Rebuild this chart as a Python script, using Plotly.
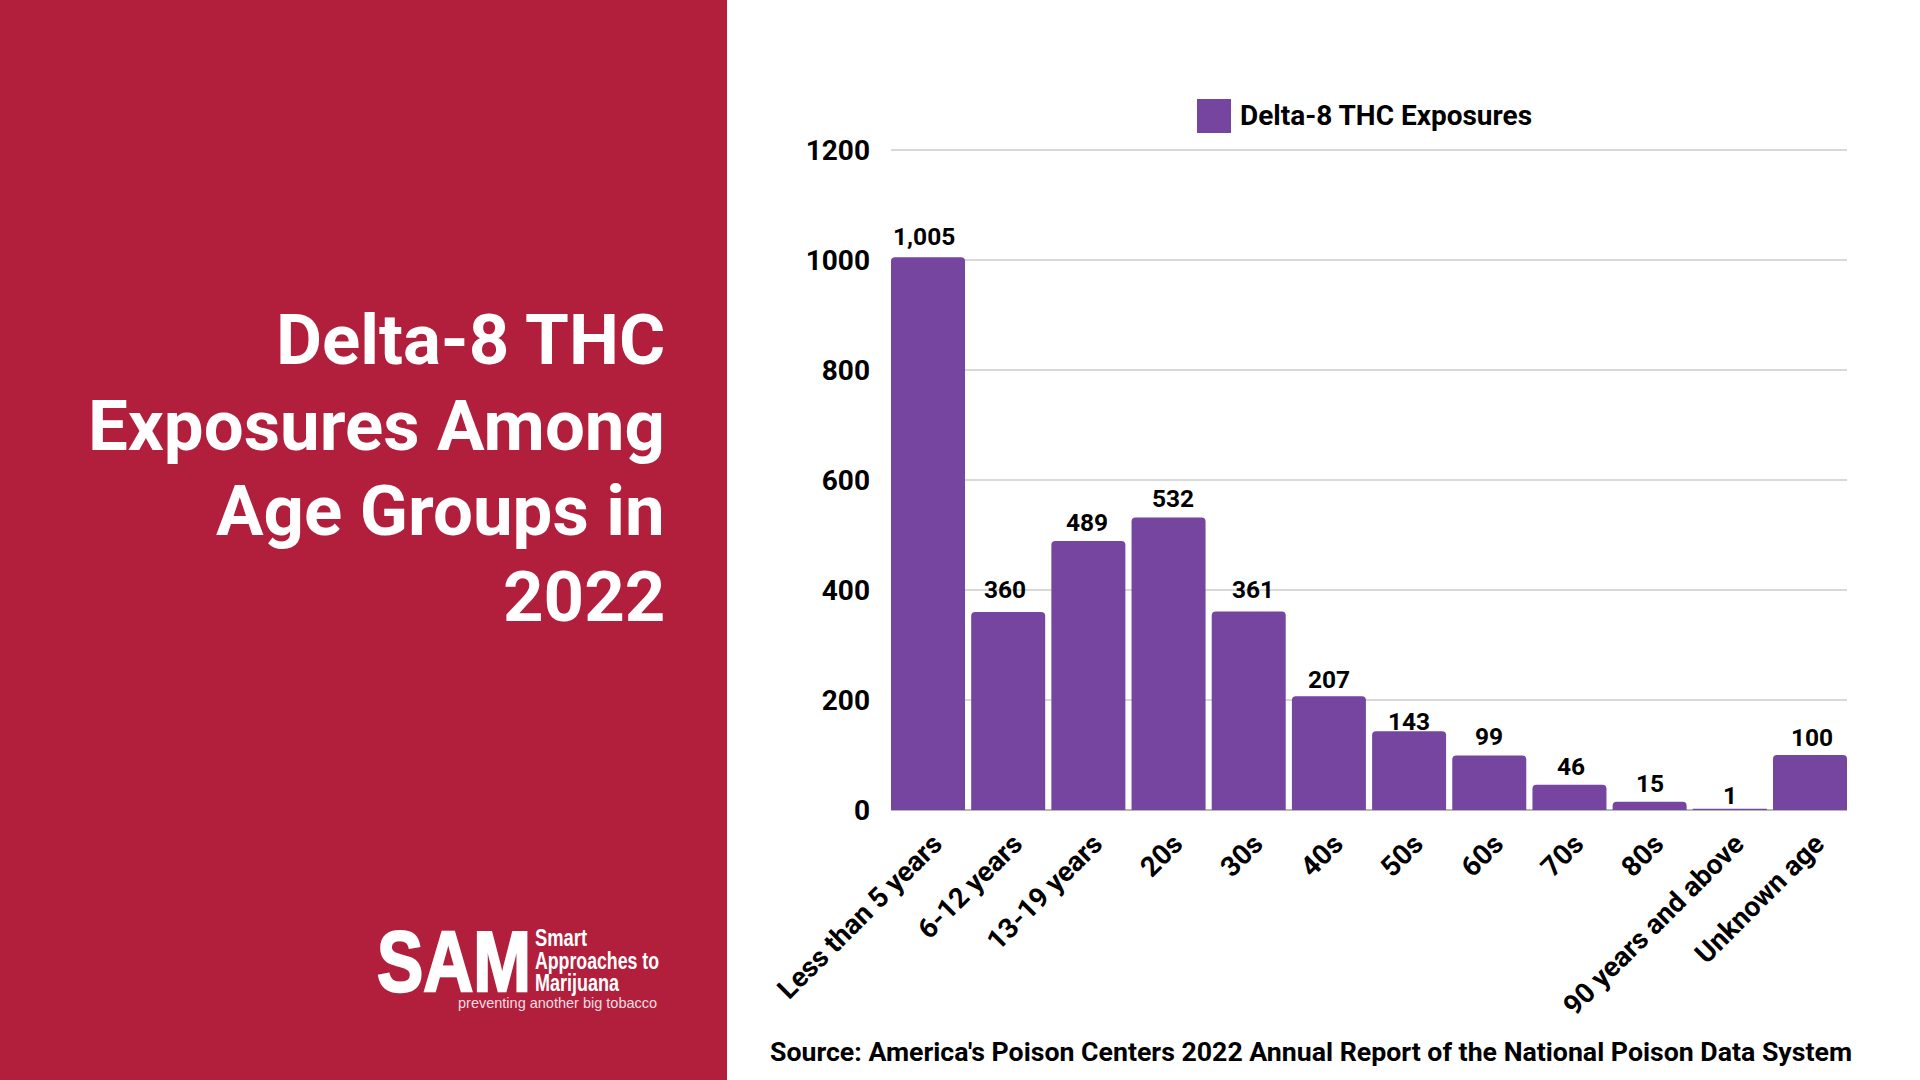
import plotly.graph_objects as go

categories = ["Less than 5 years", "6-12 years", "13-19 years", "20s", "30s", "40s", "50s", "60s", "70s", "80s", "90 years and above", "Unknown age"]
exposures = [1005, 360, 489, 532, 361, 207, 143, 99, 46, 15, 1, 100]
series_name = "Delta-8 THC Exposures"
y_ticks = [0, 200, 400, 600, 800, 1000, 1200]
title_lines = ["Delta-8 THC", "Exposures Among", "Age Groups in", "2022"]
source_text = "Source: America's Poison Centers 2022 Annual Report of the National Poison Data System"
# per-label nudges of the value labels, in pixels
label_dx = [-4, -3, -1, 4, 4, 0, 0, 0, 2, 0, 0, 2]
label_dy = [21, 23, 19, 19, 22, 17, 10, 19, 18, 18, 14, 18]

W, H = 1920, 1080
FONT = "Roboto"
PURPLE = "#75459F"
RED = "#B21F3C"

def px(v):
    return v / W

def py(v):
    return 1 - v / H

fig = go.Figure(go.Bar(
    x=categories, y=exposures, name=series_name, showlegend=False,
    marker=dict(color=PURPLE, cornerradius=4, line=dict(width=0)),
    cliponaxis=False,
))

for c, v, dx, dy in zip(categories, exposures, label_dx, label_dy):
    fig.add_annotation(x=c, y=v, xref="x", yref="y", text=f"{v:,}", showarrow=False,
                       xanchor="center", yanchor="middle", xshift=dx, yshift=dy,
                       font=dict(family=FONT, size=24.5, weight=700, color="#000000"))

def text(x, y, s, size, family=FONT, weight=700, color="#000000", anchor="left", vanchor="middle", align=None):
    fig.add_annotation(x=px(x), y=py(y), xref="paper", yref="paper", text=s, showarrow=False,
                       xanchor=anchor, yanchor=vanchor, align=align or anchor,
                       font=dict(family=family, size=size, weight=weight, color=color),
                       borderpad=0, borderwidth=0)

fig.add_shape(type="rect", xref="paper", yref="paper", x0=0, x1=px(727), y0=0, y1=1,
              fillcolor=RED, line_width=0, layer="below")
fig.add_shape(type="rect", xref="paper", yref="paper", x0=px(1197), x1=px(1231), y0=py(133), y1=py(99),
              fillcolor=PURPLE, line_width=0)

text(1240, 115, series_name, 28)
for line, yc in zip(title_lines, [339.5, 425, 511, 596.5]):
    text(664.5, yc, line, 70.8, color="#FFFFFF", anchor="right")
text(770, 1052, source_text, 26.7)

# logo wordmark
LOGO = "Liberation Sans"
text(377, 961, "SAM", 85, family=LOGO, color="#FFFFFF")
text(535, 938, "Smart", 23, family=LOGO, color="#FFFFFF")
text(535, 960.5, "Approaches to", 23, family=LOGO, color="#FFFFFF")
text(535, 983, "Marijuana", 23, family=LOGO, color="#FFFFFF")
text(458, 1003, "preventing another big tobacco", 14.5, family=LOGO, weight=400, color="#F5DDE1")

fig.update_layout(
    width=W, height=H, autosize=False,
    margin=dict(l=0, r=0, t=0, b=0, pad=0),
    paper_bgcolor="#FFFFFF", plot_bgcolor="rgba(0,0,0,0)",
    bargap=0.077,
    xaxis=dict(domain=[px(891), px(1847)], range=[-0.5 + 0.0385, 11.5 - 0.0385], automargin=False,
               tickangle=-45, showgrid=False, ticks="", zeroline=False, showline=False,
               tickfont=dict(family=FONT, size=27.8, weight=700, color="#000000"),
               ticklabelstandoff=11, ticklabelshift=6),
    yaxis=dict(domain=[py(810), py(147.8)], range=[0, 1204], automargin=False,
               tickmode="array", tickvals=y_ticks, ticktext=[str(t) for t in y_ticks],
               showgrid=True, gridcolor="#D9D9D9", gridwidth=1.5,
               zeroline=True, zerolinecolor="#B7B7B7", zerolinewidth=1.5,
               tickfont=dict(family=FONT, size=28, weight=700, color="#000000"), ticklabelstandoff=20),
)

post = """
document.body.style.margin='0';
var squeeze = {'SAM':[154,2.4], 'Smart':[52,0], 'Approaches to':[124,0], 'Marijuana':[84,0]};
document.querySelectorAll('text.annotation-text').forEach(function(t){
  var s = squeeze[t.textContent];
  if (s) {
    t.setAttribute('textLength', s[0]);
    t.setAttribute('lengthAdjust', 'spacingAndGlyphs');
    if (s[1]) { t.style.stroke = '#FFFFFF'; t.style.strokeWidth = s[1] + 'px'; }
  }
});
"""
fig.write_html("out.html", post_script=post, config=dict(displayModeBar=False))
